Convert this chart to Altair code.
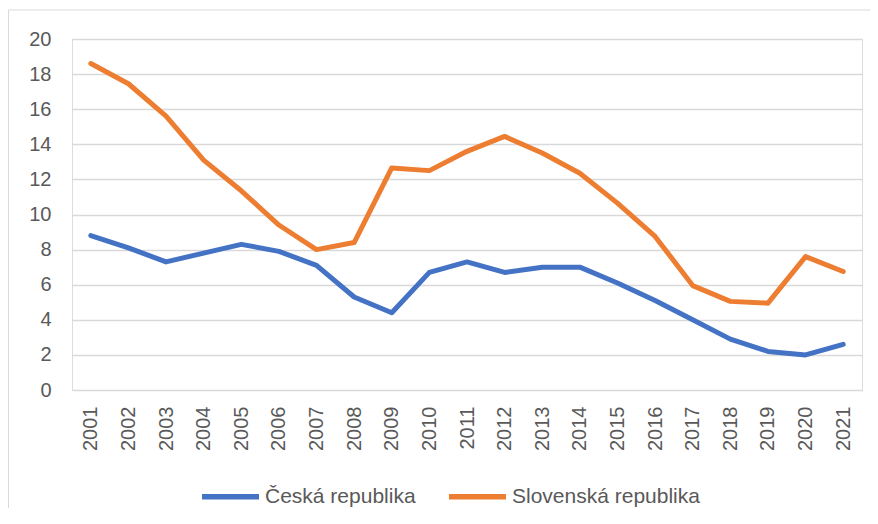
import altair as alt
import pandas as pd

years = [str(y) for y in range(2001, 2022)]
ceska = [8.8, 8.1, 7.3, 7.8, 8.3, 7.9, 7.1, 5.3, 4.4, 6.7, 7.3, 6.7, 7.0, 7.0, 6.1, 5.1, 4.0, 2.9, 2.2, 2.0, 2.6]
slovenska = [18.6, 17.45, 15.6, 13.1, 11.35, 9.4, 8.0, 8.4, 12.65, 12.5, 13.6, 14.45, 13.5, 12.35, 10.65, 8.75, 5.95, 5.05, 4.95, 7.6, 6.75]
series_names = ["Česká republika", "Slovenská republika"]
colors = ["#4472C4", "#ED7D31"]

rows = []
for name, vals in zip(series_names, [ceska, slovenska]):
    for y, v in zip(years, vals):
        rows.append({"rok": y, "hodnota": v, "zeme": name})
df = pd.DataFrame(rows)

FONT = "Liberation Sans"
TXT = "#595959"

lines = alt.Chart(df).mark_line(strokeWidth=5, strokeCap="round", strokeJoin="round").encode(
    x=alt.X("rok:N", sort=years, title=None,
            scale=alt.Scale(type="point", padding=0.5),
            axis=alt.Axis(labelAngle=270, domain=False, ticks=False, grid=False,
                          labelPadding=16, labelFontSize=20, labelColor=TXT, labelFont=FONT)),
    y=alt.Y("hodnota:Q", title=None,
            scale=alt.Scale(domain=[0, 20], nice=False),
            axis=alt.Axis(values=list(range(0, 21, 2)), domain=False, ticks=False,
                          gridColor="#D9D9D9", gridWidth=1.5, labelPadding=21,
                          labelFontSize=20, labelColor=TXT, labelFont=FONT)),
    color=alt.Color("zeme:N", title=None,
                    scale=alt.Scale(domain=series_names, range=colors),
                    legend=alt.Legend(orient="none", legendX=127, legendY=426,
                                      direction="horizontal", columns=2,
                                      symbolType="stroke", symbolSize=3249,
                                      symbolStrokeWidth=5.5, labelOffset=3,
                                      columnPadding=22, padding=0, labelLimit=400,
                                      labelFontSize=21, labelColor=TXT, labelFont=FONT)),
)

frame = pd.DataFrame({"a": [0]})
top_border = alt.Chart(frame).mark_rule(stroke="#D9D9D9", strokeWidth=1).encode(
    x=alt.value(-63.5), x2=alt.value(2000), y=alt.value(-29)
)
left_border = alt.Chart(frame).mark_rule(stroke="#D9D9D9", strokeWidth=1).encode(
    x=alt.value(-63.5), y=alt.value(-29), y2=alt.value(2000)
)

chart = alt.layer(top_border, left_border, lines).properties(
    width=790, height=351,
    autosize=alt.AutoSizeParams(type="none"),
    padding={"left": 64, "top": 31, "right": 8, "bottom": 118},
).configure_view(stroke=None).configure(font=FONT)

chart.save("out.html", embed_options={"renderer": "svg", "actions": False})
